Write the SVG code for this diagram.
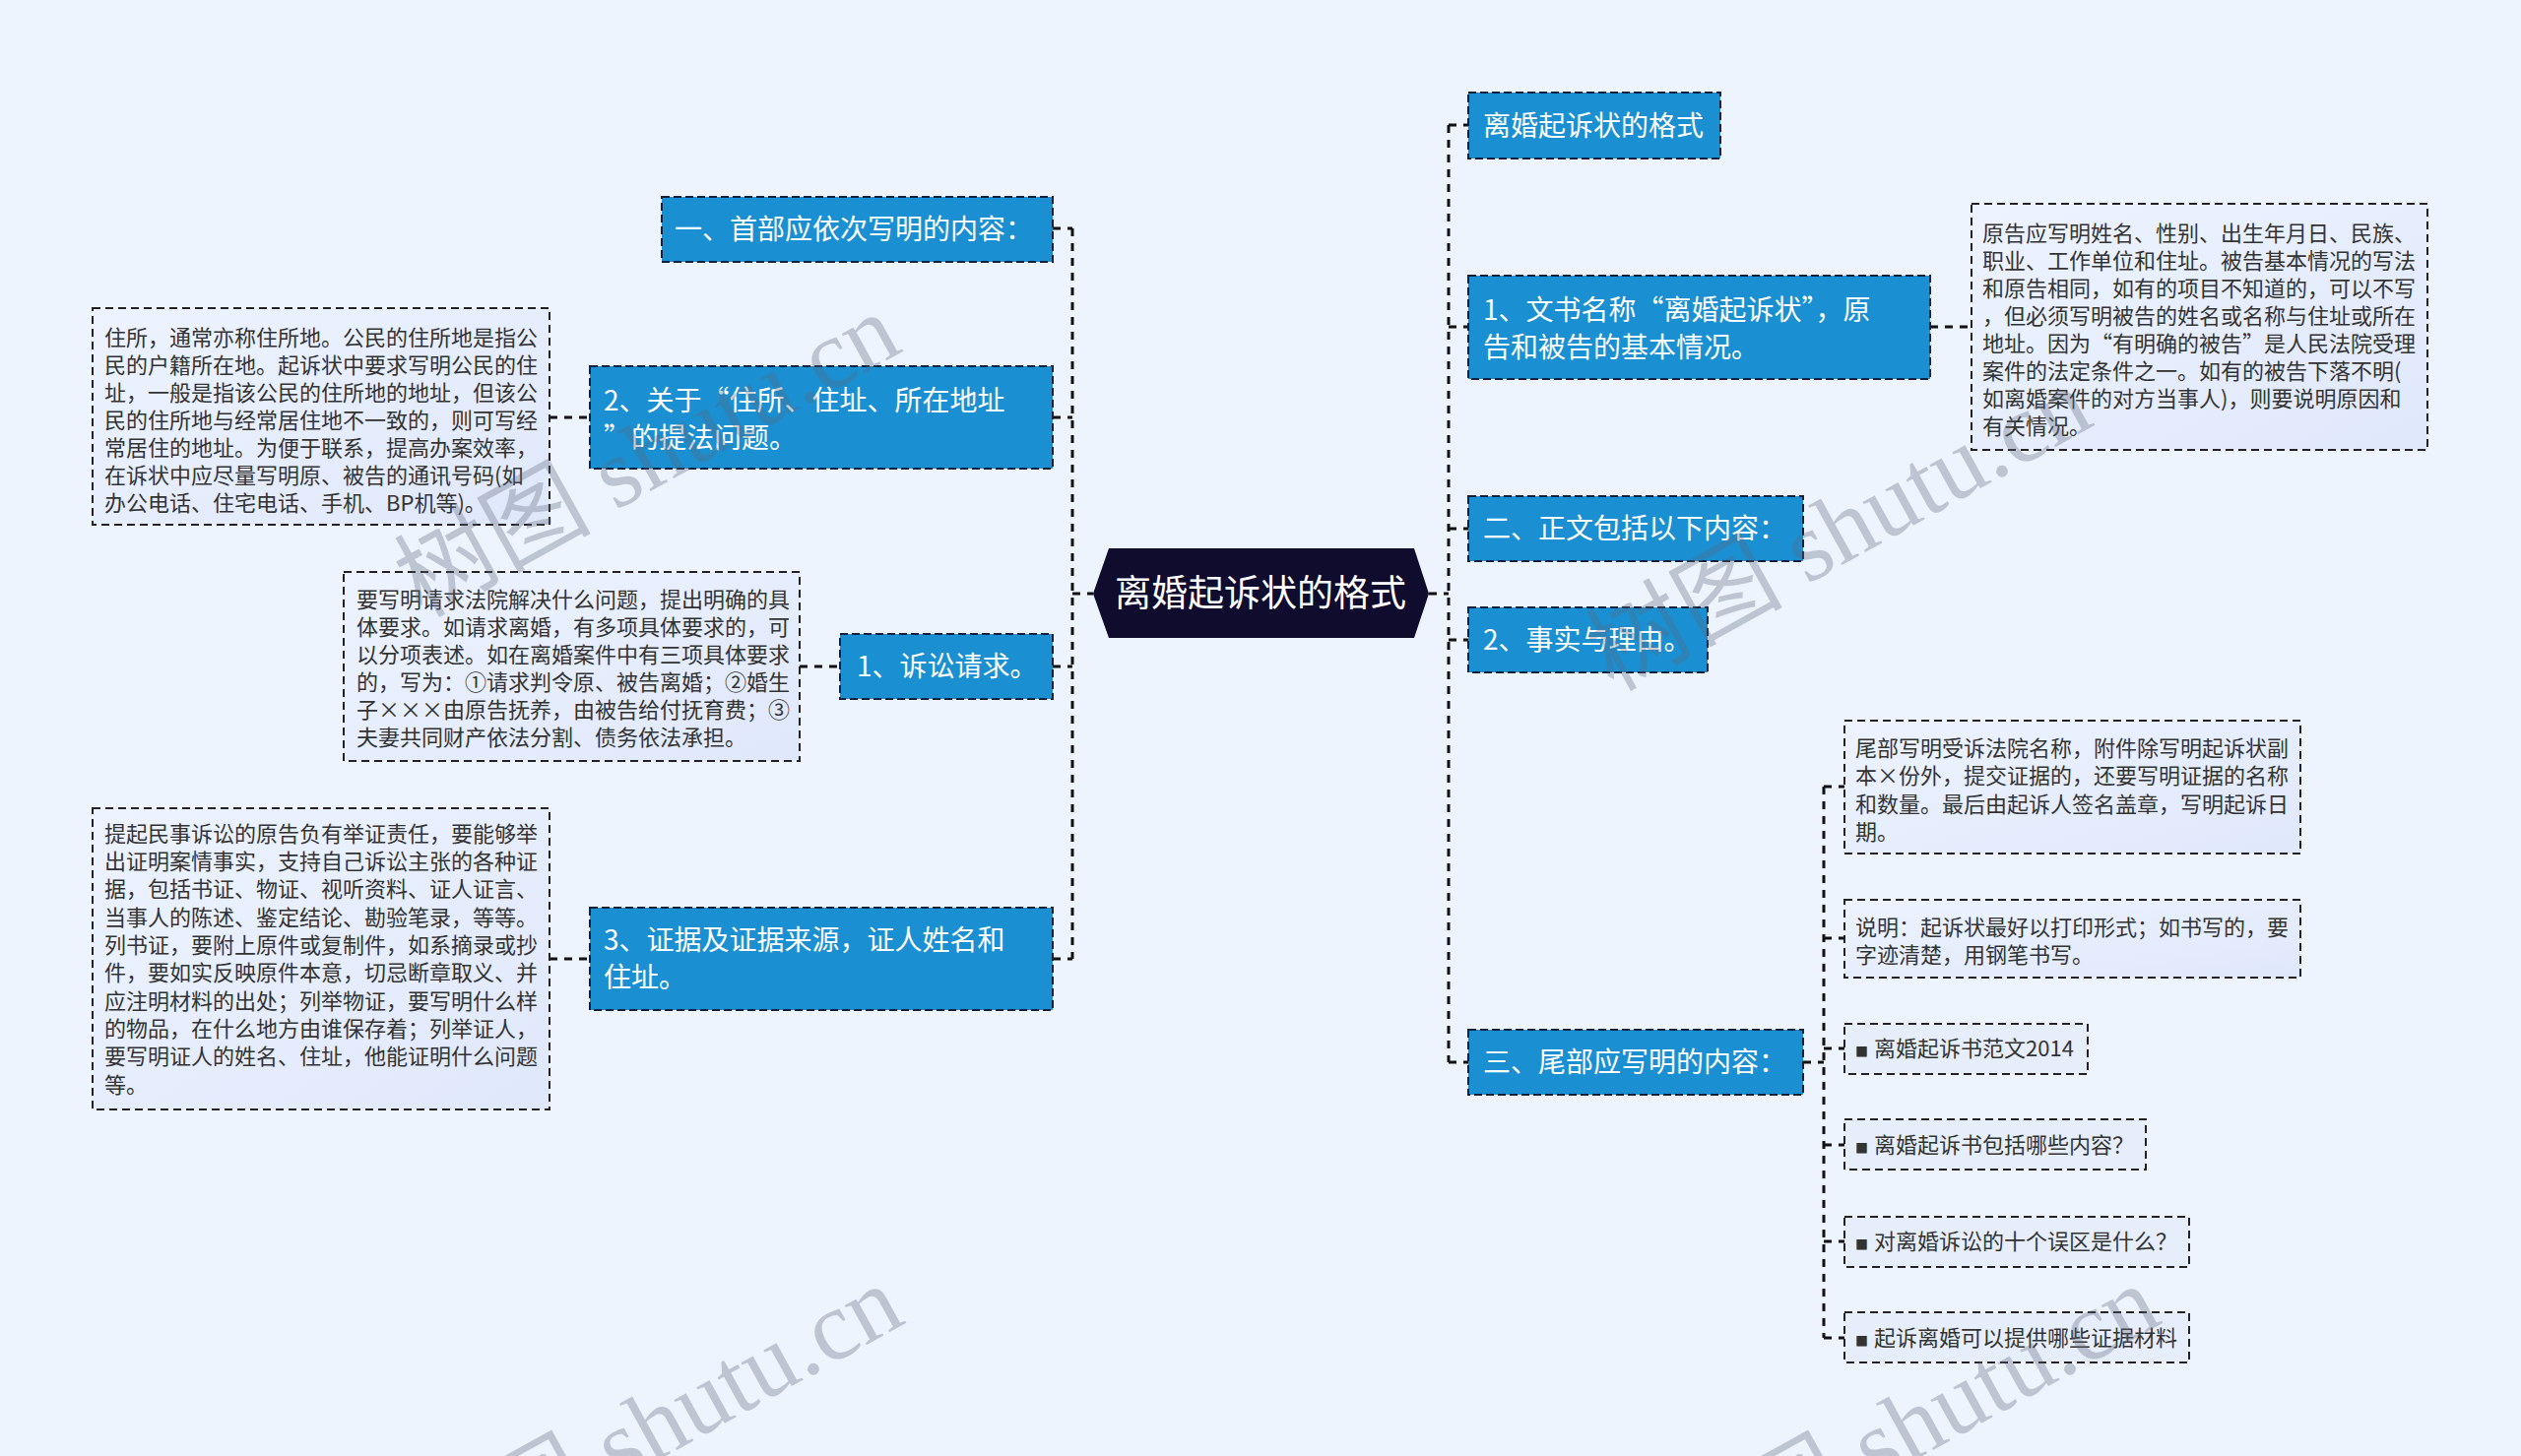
<svg xmlns="http://www.w3.org/2000/svg" width="2560" height="1479" viewBox="0 0 2560 1479">
<defs>
<linearGradient id="descFill" x1="0" y1="0" x2="1" y2="1">
<stop offset="0" stop-color="#edf3ff"/>
<stop offset="1" stop-color="#dfe8fb"/>
</linearGradient>
<style>
.bg{fill:#eef4fe}
.node{fill:#1a90d2;stroke:#14213d;stroke-width:2;stroke-dasharray:8 4}
.desc{fill:url(#descFill);stroke:#222;stroke-width:2;stroke-dasharray:8 5}
.item{fill:#e6eefc;stroke:#222;stroke-width:2;stroke-dasharray:8 5}
.nt{font-family:"Noto Sans CJK SC","Noto Sans",sans-serif;font-size:28px;fill:#ffffff}
.dt{font-family:"Noto Sans CJK SC","Noto Sans",sans-serif;font-size:22px;fill:#333333}
.ct{font-family:"Noto Sans CJK SC","Noto Sans",sans-serif;font-size:37px;fill:#ffffff}
.conn{fill:none;stroke:#111;stroke-width:3;stroke-dasharray:8 7}
.wm{font-size:100px;fill:#5d6679;opacity:0.32}
</style>
</defs>
<rect class="bg" x="0" y="0" width="2560" height="1479"/>

<g id="connectors">
<path class="conn" d="M1089,232 V974"/>
<path class="conn" d="M1069,232 H1089 M1069,424 H1089 M1069,677 H1089 M1069,974 H1089 M1089,603 H1110"/>
<path class="conn" d="M1471,127 V1079"/>
<path class="conn" d="M1451,603 H1471 M1471,127 H1491 M1471,332 H1491 M1471,537 H1491 M1471,650 H1491 M1471,1079 H1491"/>
<path class="conn" d="M558,424 H599 M812,677 H853 M558,974 H599 M1960,332 H2002"/>
<path class="conn" d="M1831,1079 H1852 M1852,799 V1359"/>
<path class="conn" d="M1852,799 H1873 M1852,953 H1873 M1852,1065 H1873 M1852,1163 H1873 M1852,1261 H1873 M1852,1359 H1873"/>
</g>

<g id="center">
<polygon points="1110,603 1126,557 1436,557 1451,603 1436,648 1126,648" fill="#0f0c2e"/>
<text class="ct" x="1280" y="616" text-anchor="middle">离婚起诉状的格式</text>
</g>

<g id="n-shoubu">
<rect class="node" x="672" y="200" width="397" height="66"/>
<text class="nt" x="685" y="243">一、首部应依次写明的内容：</text>
</g>

<g id="n-zhusuo">
<rect class="node" x="599" y="372" width="470" height="104"/>
<text class="nt" x="613" y="417">2、关于“住所、住址、所在地址</text>
<text class="nt" x="613" y="455">”的提法问题。</text>
</g>
<g id="d-zhusuo">
<rect class="desc" x="94" y="313" width="464" height="220"/>
<text class="dt" x="106" y="351">住所，通常亦称住所地。公民的住所地是指公</text>
<text class="dt" x="106" y="379">民的户籍所在地。起诉状中要求写明公民的住</text>
<text class="dt" x="106" y="407">址，一般是指该公民的住所地的地址，但该公</text>
<text class="dt" x="106" y="435">民的住所地与经常居住地不一致的，则可写经</text>
<text class="dt" x="106" y="463">常居住的地址。为便于联系，提高办案效率，</text>
<text class="dt" x="106" y="491">在诉状中应尽量写明原、被告的通讯号码(如</text>
<text class="dt" x="106" y="519">办公电话、住宅电话、手机、BP机等)。</text>
</g>

<g id="n-qingqiu">
<rect class="node" x="853" y="644" width="216" height="66"/>
<text class="nt" x="870" y="687">1、诉讼请求。</text>
</g>
<g id="d-qingqiu">
<rect class="desc" x="349" y="581" width="463" height="192"/>
<text class="dt" x="362" y="617">要写明请求法院解决什么问题，提出明确的具</text>
<text class="dt" x="362" y="645">体要求。如请求离婚，有多项具体要求的，可</text>
<text class="dt" x="362" y="673">以分项表述。如在离婚案件中有三项具体要求</text>
<text class="dt" x="362" y="701">的，写为：①请求判令原、被告离婚；②婚生</text>
<text class="dt" x="362" y="729">子×××由原告抚养，由被告给付抚育费；③</text>
<text class="dt" x="362" y="757">夫妻共同财产依法分割、债务依法承担。</text>
</g>

<g id="n-zhengju">
<rect class="node" x="599" y="922" width="470" height="104"/>
<text class="nt" x="613" y="965">3、证据及证据来源，证人姓名和</text>
<text class="nt" x="613" y="1003">住址。</text>
</g>
<g id="d-zhengju">
<rect class="desc" x="94" y="821" width="464" height="306"/>
<text class="dt" x="106" y="855">提起民事诉讼的原告负有举证责任，要能够举</text>
<text class="dt" x="106" y="883">出证明案情事实，支持自己诉讼主张的各种证</text>
<text class="dt" x="106" y="911">据，包括书证、物证、视听资料、证人证言、</text>
<text class="dt" x="106" y="940">当事人的陈述、鉴定结论、勘验笔录，等等。</text>
<text class="dt" x="106" y="968">列书证，要附上原件或复制件，如系摘录或抄</text>
<text class="dt" x="106" y="996">件，要如实反映原件本意，切忌断章取义、并</text>
<text class="dt" x="106" y="1025">应注明材料的出处；列举物证，要写明什么样</text>
<text class="dt" x="106" y="1053">的物品，在什么地方由谁保存着；列举证人，</text>
<text class="dt" x="106" y="1081">要写明证人的姓名、住址，他能证明什么问题</text>
<text class="dt" x="106" y="1110">等。</text>
</g>

<g id="n-title">
<rect class="node" x="1491" y="94" width="256" height="67"/>
<text class="nt" x="1506" y="138">离婚起诉状的格式</text>
</g>

<g id="n-wenshu">
<rect class="node" x="1491" y="280" width="469" height="105"/>
<text class="nt" x="1506" y="325">1、文书名称“离婚起诉状”，原</text>
<text class="nt" x="1506" y="363">告和被告的基本情况。</text>
</g>
<g id="d-wenshu">
<rect class="desc" x="2002" y="207" width="463" height="250"/>
<text class="dt" x="2013" y="245">原告应写明姓名、性别、出生年月日、民族、</text>
<text class="dt" x="2013" y="273">职业、工作单位和住址。被告基本情况的写法</text>
<text class="dt" x="2013" y="301">和原告相同，如有的项目不知道的，可以不写</text>
<text class="dt" x="2013" y="329">，但必须写明被告的姓名或名称与住址或所在</text>
<text class="dt" x="2013" y="357">地址。因为“有明确的被告”是人民法院受理</text>
<text class="dt" x="2013" y="385">案件的法定条件之一。如有的被告下落不明(</text>
<text class="dt" x="2013" y="413">如离婚案件的对方当事人)，则要说明原因和</text>
<text class="dt" x="2013" y="441">有关情况。</text>
</g>

<g id="n-zhengwen">
<rect class="node" x="1491" y="504" width="340" height="66"/>
<text class="nt" x="1506" y="547">二、正文包括以下内容：</text>
</g>

<g id="n-shishi">
<rect class="node" x="1491" y="617" width="243" height="66"/>
<text class="nt" x="1506" y="660">2、事实与理由。</text>
</g>

<g id="n-weibu">
<rect class="node" x="1491" y="1046" width="340" height="66"/>
<text class="nt" x="1506" y="1089">三、尾部应写明的内容：</text>
</g>
<g id="d-weibu">
<rect class="desc" x="1873" y="732" width="463" height="135"/>
<text class="dt" x="1884" y="768">尾部写明受诉法院名称，附件除写明起诉状副</text>
<text class="dt" x="1884" y="796">本×份外，提交证据的，还要写明证据的名称</text>
<text class="dt" x="1884" y="825">和数量。最后由起诉人签名盖章，写明起诉日</text>
<text class="dt" x="1884" y="853">期。</text>
</g>
<g id="d-shuoming">
<rect class="desc" x="1873" y="914" width="463" height="79"/>
<text class="dt" x="1884" y="950">说明：起诉状最好以打印形式；如书写的，要</text>
<text class="dt" x="1884" y="978">字迹清楚，用钢笔书写。</text>
</g>
<g id="i-1">
<rect class="item" x="1873" y="1040" width="247" height="51"/>
<text class="dt" x="1884" y="1073"><tspan font-size="13">■</tspan><tspan x="1903">离婚起诉书范文2014</tspan></text>
</g>
<g id="i-2">
<rect class="item" x="1873" y="1137" width="306" height="51"/>
<text class="dt" x="1884" y="1171"><tspan font-size="13">■</tspan><tspan x="1903">离婚起诉书包括哪些内容？</tspan></text>
</g>
<g id="i-3">
<rect class="item" x="1873" y="1236" width="350" height="51"/>
<text class="dt" x="1884" y="1269"><tspan font-size="13">■</tspan><tspan x="1903">对离婚诉讼的十个误区是什么？</tspan></text>
</g>
<g id="i-4">
<rect class="item" x="1873" y="1333" width="350" height="51"/>
<text class="dt" x="1884" y="1367"><tspan font-size="13">■</tspan><tspan x="1903">起诉离婚可以提供哪些证据材料</tspan></text>
</g>

<g id="watermarks">
<text class="wm" transform="translate(428,628) rotate(-29)"><tspan font-family="Noto Sans CJK SC, sans-serif">树图</tspan><tspan font-family="Liberation Serif, serif"> shutu.cn</tspan></text>
<text class="wm" transform="translate(1638,703) rotate(-29)"><tspan font-family="Noto Sans CJK SC, sans-serif">树图</tspan><tspan font-family="Liberation Serif, serif"> shutu.cn</tspan></text>
<text class="wm" transform="translate(431,1615) rotate(-29)"><tspan font-family="Noto Sans CJK SC, sans-serif">树图</tspan><tspan font-family="Liberation Serif, serif"> shutu.cn</tspan></text>
<text class="wm" transform="translate(1707,1615) rotate(-29)"><tspan font-family="Noto Sans CJK SC, sans-serif">树图</tspan><tspan font-family="Liberation Serif, serif"> shutu.cn</tspan></text>
</g>
</svg>
